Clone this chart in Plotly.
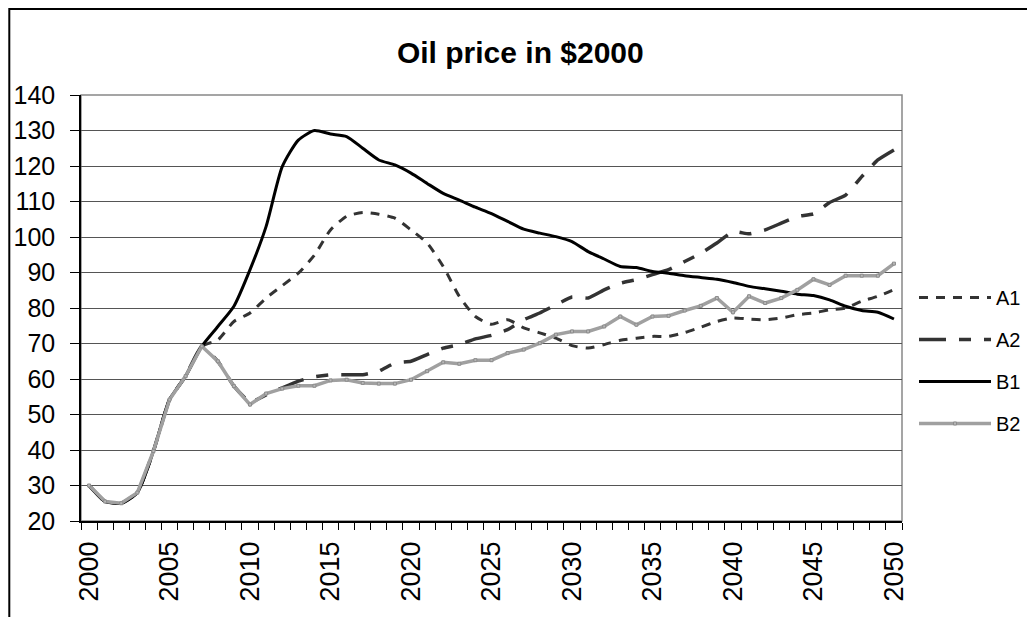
import plotly.graph_objects as go

years = list(range(2000, 2051))

A1 = [30, 25.5, 25, 28, 39.7, 54.2, 60.8, 69.2, 71, 76.2, 78.6, 82.8, 86.3, 89.8, 94.9, 102,
      105.8, 106.9, 106.4, 105.3, 102, 98.3, 91.7, 83.3, 77.6, 75.4, 76.7, 74.4, 73, 71.5, 69.4,
      68.7, 69.7, 70.9, 71.5, 72, 72, 73.1, 74.6, 76.2, 77.2, 76.9, 76.7, 77.2, 78.1, 78.6, 79.5,
      80, 81.9, 83.3, 85.2]
A2 = [30, 25.5, 25, 28, 39.7, 54.2, 60.8, 69.2, 65, 58, 53.5, 55.5, 57.5, 59.4, 60.6, 61.2,
      61.2, 61.2, 62.2, 64.5, 65, 66.9, 68.7, 69.7, 71.3, 72.3, 73.9, 76.7, 78.6, 80.9, 83.1,
      82.8, 85.1, 87, 88, 89.4, 90.8, 93.1, 95.4, 98.3, 101.5, 100.9, 102, 103.9, 105.8, 106.5,
      109.7, 111.8, 117, 121.7, 124.5]
B1 = [30, 25.5, 25, 28, 39.7, 54.2, 60.8, 69.2, 74.8, 80.5, 90.8, 103, 119.8, 127.3, 130, 129,
      128.3, 125, 121.7, 120.3, 118, 115.1, 112.3, 110.4, 108.4, 106.6, 104.4, 102.2, 101.1,
      100.1, 98.7, 95.9, 93.8, 91.7, 91.4, 90.3, 89.8, 89.1, 88.6, 88.1, 87.2, 86.1, 85.4, 84.7,
      83.9, 83.5, 82.3, 80.5, 79.3, 78.8, 76.9]
B2 = [30, 25.5, 25, 28, 39.7, 54.2, 60.8, 69.2, 65, 58, 52.8, 55.9, 57.3, 58.1, 58.1, 59.6,
      59.8, 58.9, 58.7, 58.7, 59.8, 62.2, 64.7, 64.3, 65.3, 65.3, 67.3, 68.3, 70.1, 72.5, 73.4,
      73.4, 74.8, 77.6, 75.3, 77.6, 77.8, 79.3, 80.6, 82.8, 78.8, 83.3, 81.4, 82.8, 85.1, 88.1,
      86.5, 89.1, 89.1, 89.1, 92.5]

y_ticks = list(range(20, 150, 10))
x_label_years = list(range(2000, 2051, 5))

FONT = "Liberation Sans, Arial, sans-serif"

# plot area in figure pixels
L, R, T, B = 72.7, 893.7, 87.0, 513.5
PW, PH = R - L, B - T
FW, FH = 1035, 617

fig = go.Figure()
fig.add_trace(go.Scatter(x=years, y=A1, name="A1", mode="lines", legendgroup="a1",
                         line=dict(color="#333333", width=3, dash="9px,8px",
                                   shape="spline", smoothing=0.6)))
fig.add_trace(go.Scatter(x=years, y=A2, name="A2", mode="lines", legendgroup="a2",
                         line=dict(color="#333333", width=3.5, dash="27px,13px,12px,13px",
                                   shape="spline", smoothing=0.4)))
fig.add_trace(go.Scatter(x=years, y=B1, name="B1", mode="lines", legendgroup="b1",
                         line=dict(color="#000000", width=3, shape="spline", smoothing=0.6)))
fig.add_trace(go.Scatter(x=years, y=B2, name="B2", mode="lines+markers", legendgroup="b2",
                         line=dict(color="#a0a0a0", width=3.5),
                         marker=dict(symbol="square", size=3, color="#b8b8b8",
                                     line=dict(color="#8c8c8c", width=1))))

# outer chart frame (figure border, extends past the visible window right/bottom)
fig.add_shape(type="rect", xref="paper", yref="paper",
              x0=(1 - L) / PW, x1=(FW + 20 - L) / PW,
              y0=-(FH + 20 - B) / PH, y1=1 + (T - 1) / PH,
              line=dict(color="black", width=2), layer="below")
# plot area border (gray)
fig.add_shape(type="rect", xref="paper", yref="paper", x0=0, x1=1, y0=0, y1=1,
              line=dict(color="#888888", width=1.5), layer="below")

fig.update_layout(
    width=FW, height=FH,
    margin=dict(l=L, r=FW - R, t=T, b=FH - B, pad=0),
    paper_bgcolor="white", plot_bgcolor="white",
    font=dict(family=FONT, color="black"),
    title=dict(text="<b>Oil price in $2000</b>", x=0.495, xanchor="center",
               y=1 - 44 / FH, yanchor="middle", font=dict(size=30, family=FONT)),
    showlegend=True,
    legend=dict(xref="container", yref="container",
                x=906 / FW, xanchor="left", y=1 - 352.5 / FH, yanchor="middle",
                font=dict(size=20, family=FONT), itemwidth=72, traceorder="grouped",
                tracegroupgap=13, bgcolor="rgba(0,0,0,0)"),
    xaxis=dict(range=[1999.5, 2050.5], tickmode="array", tickvals=x_label_years,
               ticktext=[str(y) for y in x_label_years], tickangle=-90,
               tickfont=dict(size=27, family=FONT), ticks="", showgrid=False,
               ticklabelstandoff=8, automargin=False,
               showline=True, linecolor="black", linewidth=1.5, zeroline=False,
               minor=dict(tick0=1999.5, dtick=1, ticks="outside", ticklen=7,
                          tickcolor="black", tickwidth=1, showgrid=False)),
    yaxis=dict(range=[20, 140], tickmode="array", tickvals=y_ticks,
               tickfont=dict(size=25, family=FONT), ticks="outside", ticklen=9,
               ticklabelstandoff=10, automargin=False,
               tickcolor="black", showgrid=True, gridcolor="#555555", gridwidth=1,
               showline=True, linecolor="black", linewidth=1.5, zeroline=False),
)

fig.write_html("out.html")
